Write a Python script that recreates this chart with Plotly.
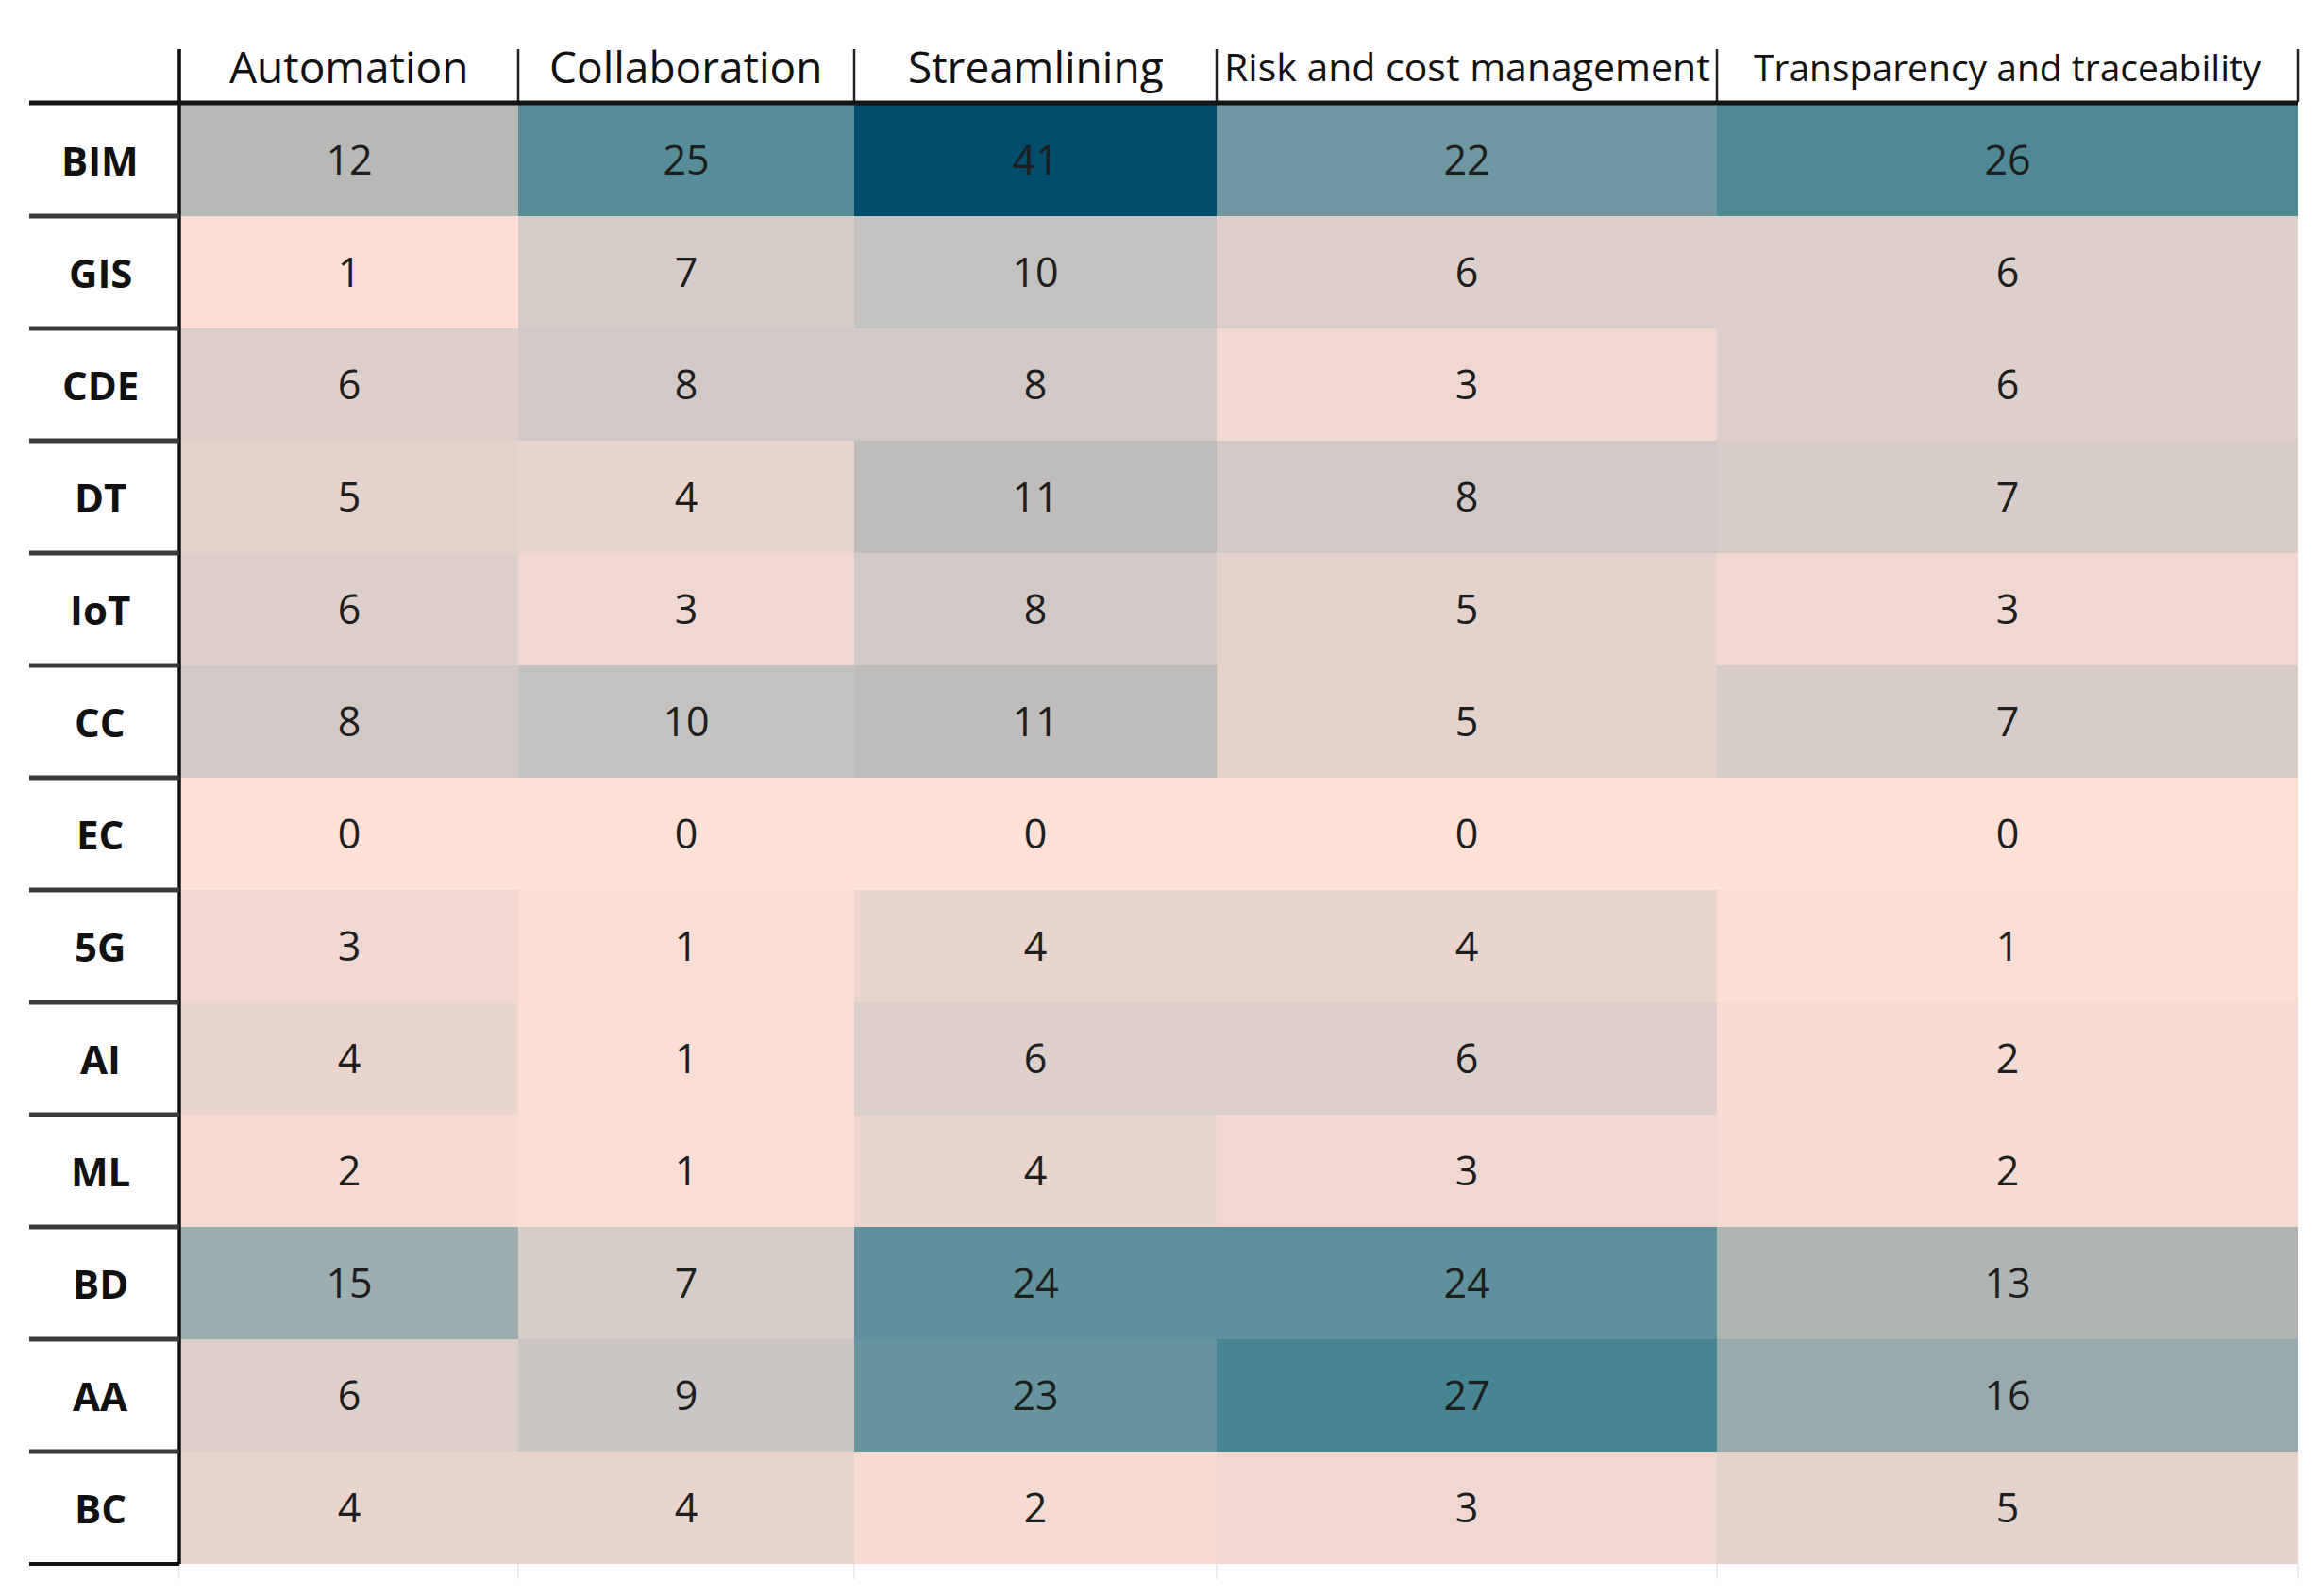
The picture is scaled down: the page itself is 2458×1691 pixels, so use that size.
import plotly.graph_objects as go

# ---------------- data ----------------
technologies = ["BIM", "GIS", "CDE", "DT", "IoT", "CC", "EC", "5G", "AI", "ML", "BD", "AA", "BC"]
dimensions = ["Automation", "Collaboration", "Streamlining",
              "Risk and cost management", "Transparency and traceability"]
automation = [12, 1, 6, 5, 6, 8, 0, 3, 4, 2, 15, 6, 4]
collaboration = [25, 7, 8, 4, 3, 10, 0, 1, 1, 1, 7, 9, 4]
streamlining = [41, 10, 8, 11, 8, 11, 0, 4, 6, 4, 24, 23, 2]
risk_cost = [22, 6, 3, 8, 5, 5, 0, 4, 6, 3, 24, 27, 3]
transparency = [26, 6, 6, 7, 3, 7, 0, 1, 2, 2, 13, 16, 5]

series = [automation, collaboration, streamlining, risk_cost, transparency]
z = [[s[i] for s in series] for i in range(len(technologies))]

# ---------------- layout constants (page pixels) ----------------
W, H = 2458, 1691
PAGE_MARGIN = 8  # default body margin of the html page
LABEL_LEFT = 31
TABLE_LEFT = 190
COL_WIDTHS = [359, 356, 384, 530, 616]
TOP = 110
ROW_H = 119
HEADER_TOP = 52
HEADER_BOTTOM = 108

col_edges = [TABLE_LEFT]
for w in COL_WIDTHS:
    col_edges.append(col_edges[-1] + w)
row_edges = [TOP + i * ROW_H for i in range(len(technologies) + 1)]
BOTTOM = row_edges[-1]

zmax = 41
stops = [
    (0, "#FFE1D6"), (1, "#FCDED4"), (2, "#F6DBD2"), (3, "#F0D8D0"),
    (4, "#EAD5CD"), (5, "#E4D2CB"), (6, "#DDCFCA"), (7, "#D8CCC8"),
    (8, "#D2C9C6"), (10, "#C3C2C0"), (12, "#B8B8B6"), (15, "#9DAEB0"),
    (16, "#97AAAD"), (22, "#6F97A1"), (24, "#5F909B"), (25, "#578D98"),
    (27, "#468592"), (41, "#004C6B"),
]
colorscale = [[v / zmax, c] for v, c in stops]

FONT = "Open Sans"

fig = go.Figure()
fig.add_trace(go.Heatmap(
    x=col_edges, y=row_edges, z=z,
    zmin=0, zmax=zmax, colorscale=colorscale, showscale=False,
    texttemplate="%{z}",
    textfont=dict(family=FONT, size=43, color="#1e1e1e"),
    hoverinfo="skip",
))

shapes = []
# header vertical separators
for xe in col_edges:
    shapes.append(dict(type="line", x0=xe, x1=xe, y0=HEADER_TOP, y1=HEADER_BOTTOM,
                       line=dict(color="#222222", width=2.5)))
# faint lines below the table
for xe in col_edges:
    shapes.append(dict(type="line", x0=xe, x1=xe, y0=BOTTOM, y1=BOTTOM + 16,
                       line=dict(color="#ECECEC", width=2)))
# label column vertical line
shapes.append(dict(type="line", x0=TABLE_LEFT, x1=TABLE_LEFT, y0=HEADER_TOP, y1=BOTTOM,
                   line=dict(color="#111111", width=3.5)))
# header bottom thick line
shapes.append(dict(type="line", x0=LABEL_LEFT, x1=col_edges[-1], y0=TOP - 1, y1=TOP - 1,
                   line=dict(color="#151515", width=5)))
# row separators in the label column
for ye in row_edges[1:-1]:
    shapes.append(dict(type="line", x0=LABEL_LEFT, x1=TABLE_LEFT, y0=ye, y1=ye,
                       line=dict(color="#3a3a3a", width=5)))
shapes.append(dict(type="line", x0=LABEL_LEFT, x1=TABLE_LEFT, y0=BOTTOM, y1=BOTTOM,
                   line=dict(color="#111111", width=4)))

annotations = []
header_sizes = [46, 46, 46, 41, 39]
for i, name in enumerate(dimensions):
    annotations.append(dict(
        x=(col_edges[i] + col_edges[i + 1]) / 2, y=70, xref="x", yref="y",
        text=name, showarrow=False, xanchor="center", yanchor="middle",
        font=dict(family=FONT, size=header_sizes[i], color="#111111"),
    ))
for j, name in enumerate(technologies):
    annotations.append(dict(
        x=106, y=(row_edges[j] + row_edges[j + 1]) / 2,
        xref="x", yref="y",
        text="<b>" + name + "</b>", showarrow=False, xanchor="center", yanchor="middle",
        font=dict(family=FONT, size=42, color="#111111"),
    ))

fig.update_layout(
    width=W - 2 * PAGE_MARGIN, height=H - 2 * PAGE_MARGIN,
    margin=dict(l=0, r=0, t=0, b=0),
    paper_bgcolor="white", plot_bgcolor="white",
    xaxis=dict(range=[PAGE_MARGIN, W - PAGE_MARGIN], domain=[0, 1], visible=False, fixedrange=True),
    yaxis=dict(range=[H - PAGE_MARGIN, PAGE_MARGIN], domain=[0, 1], visible=False, fixedrange=True),
    shapes=shapes, annotations=annotations,
    showlegend=False,
)

fig.write_html("out.html")
